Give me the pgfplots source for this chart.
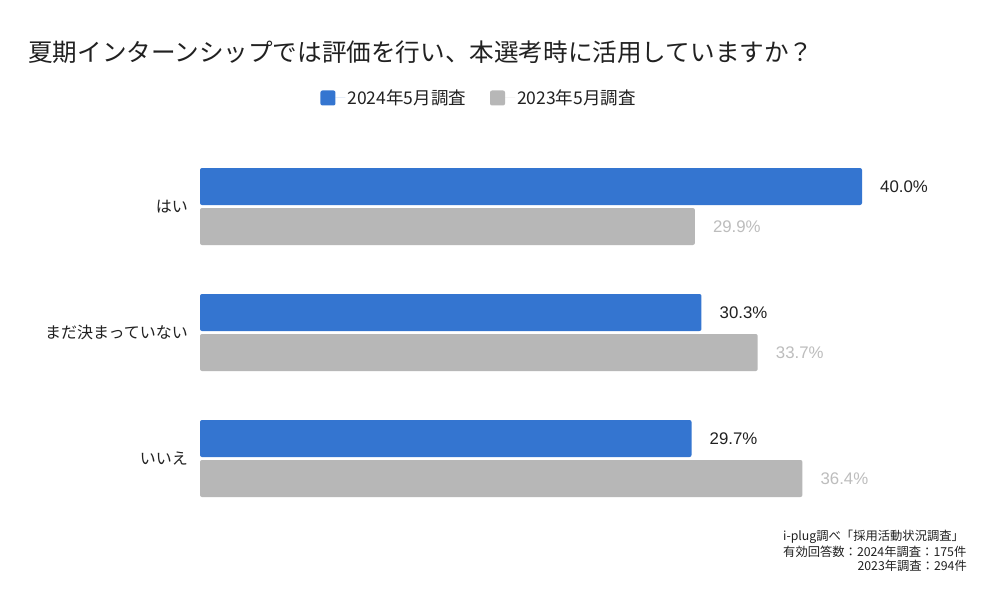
\documentclass[border=0pt]{standalone}
\usepackage{fontspec}
\setmainfont{Noto Sans CJK JP}
\newfontfamily\numfont{Liberation Sans}
\usepackage{pgfplots}
\pgfplotsset{compat=1.18}
\definecolor{barblue}{HTML}{3475D0}
\definecolor{bargray}{HTML}{B7B7B7}
\definecolor{lbgray}{HTML}{BDBDBD}
\definecolor{txt}{HTML}{212121}
\begin{document}
\begin{tikzpicture}[x=1pt,y=1pt]
\path[use as bounding box, fill=white] (0,0) rectangle (1000,-591);
\node[anchor=west, inner sep=0pt, font=\fontsize{24.6}{27}\selectfont, text=txt] at (28,-52) {夏期インターンシップでは評価を行い、本選考時に活用していますか？};
\begin{axis}[
  at={(200pt,-521.5pt)}, anchor=south west,
  scale only axis, width=662pt, height=378pt,
  xmin=0, xmax=40, ymin=-0.5, ymax=2.5,
  xbar, bar width=37pt,
  axis line style={draw=none},
  xtick=\empty,
  ytick={0,1,2},
  yticklabels={いいえ, まだ決まっていない, はい},
  major tick length=0pt,
  yticklabel style={font=\fontsize{16}{18}\selectfont, inner sep=0pt, xshift=-12pt, text=txt},
  clip=false,
  legend columns=2,
  legend style={draw=none, at={(0.4215,1.1204)}, anchor=center,
    font=\fontsize{17.5}{19}\selectfont, text=txt,
    /tikz/every even column/.append style={column sep=22pt}},
  legend image code/.code={\fill[#1] (0pt,-7.5pt) rectangle (15pt,7.5pt); \path (15pt,0pt) -- (25pt,0pt);},
  nodes near coords={\numfont\pgfmathprintnumber[fixed,fixed zerofill,precision=1,assume math mode=true]{\pgfplotspointmeta}\%},
  nodes near coords style={font=\fontsize{16.8}{18}\selectfont, anchor=west, inner sep=0pt, xshift=18pt},
]
\addplot[fill=barblue, draw=none, rounded corners=2pt, bar shift=20pt, every node near coord/.append style={text=txt}]
  coordinates {(40.0,2) (30.3,1) (29.7,0)};
\addplot[fill=bargray, draw=none, rounded corners=2pt, bar shift=-20pt, every node near coord/.append style={text=lbgray}]
  coordinates {(29.9,2) (33.7,1) (36.4,0)};
\legend{2024年5月調査, 2023年5月調査}
\end{axis}
\begin{scope}[every node/.style={inner sep=0pt, font=\fontsize{12.3}{14}\selectfont, text=txt}]
\node[anchor=west] at (783,-537) {i-plug調べ「採用活動状況調査」};
\node[anchor=west] at (783,-551.5) {有効回答数：2024年調査：175件};
\node[anchor=east] at (967,-566) {2023年調査：294件};
\end{scope}
\end{tikzpicture}
\end{document}
